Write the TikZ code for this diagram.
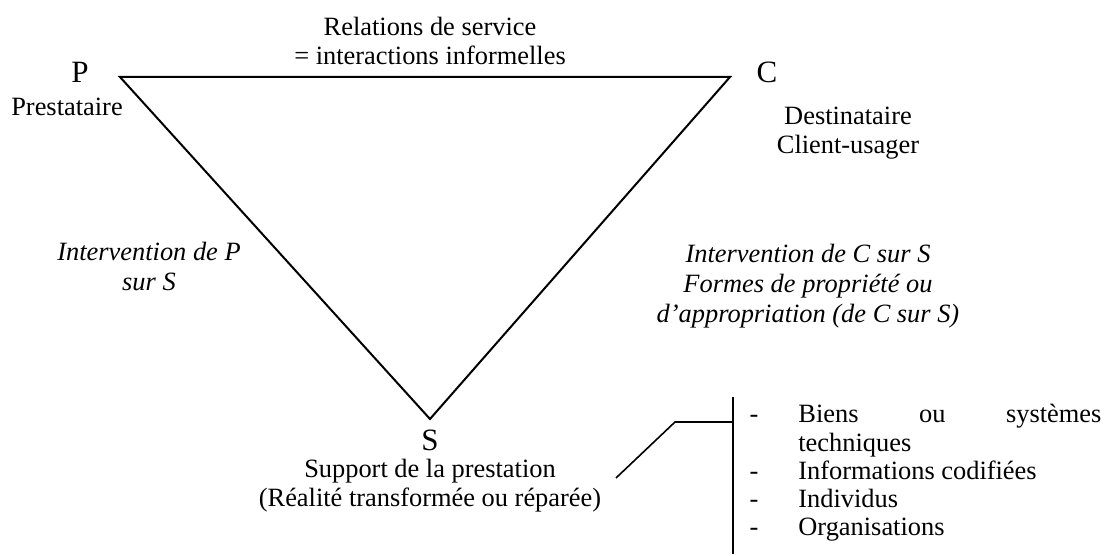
\documentclass[tikz,border=0pt]{standalone}
\usepackage{fontspec}
\setmainfont{Liberation Serif}
\usetikzlibrary{positioning}
\tikzset{
	txt/.style={font=\fontsize{13.2}{14.5}\selectfont, inner sep=0pt, align=center},
	ital/.style={txt, font=\fontsize{13.2}{15}\selectfont\itshape},
	letter/.style={font=\fontsize{15.5}{17}\selectfont, inner sep=0pt},
	edge/.style={line width=1pt},
	link/.style={line width=0.8pt},
}

\begin{document}
\begin{tikzpicture}[x=0.5pt, y=-0.5pt]
		%%%%% START %%%%%
		\useasboundingbox (0,0) rectangle (1104,556);
		
		% the triangle
		\coordinate (P) at (120,77);
		\coordinate (C) at (730,77);
		\coordinate (S) at (430,419);
		\draw[edge, line join=miter] (P) -- (C) -- (S) -- cycle;
		
		% corners (base = last line)
		\node[letter, anchor=base] (lP) at (80,83) {P};
		\node[txt, anchor=base] (prest) at (67,116) {Prestataire};
		\node[letter, anchor=base] (lC) at (767,83) {C};
		\node[txt, anchor=base] (dest) at (848,154) {Destinataire\\Client-usager};
		\node[letter, anchor=base] (lS) at (430,450) {S};
		\node[txt, anchor=base] (supp) at (430,506) {Support de la prestation\\(Réalité transformée ou réparée)};
		
		% sides
		\node[txt, anchor=base] (rel) at (430,65) {Relations de service\\= interactions informelles};
		\node[ital, anchor=base] (intP) at (149,290) {Intervention de P\\sur S};
		\node[ital, anchor=base] (intC) at (808,322) {Intervention de C sur S\\Formes de propriété ou\\d’appropriation (de C sur S)};
		
		% bracket to the list
		\coordinate (k1) at (616,478);
		\coordinate (k2) at (675,422);
		\coordinate (k3) at (733,422);
		\coordinate (top) at (733,397);
		\coordinate (bot) at (733,554);
		\draw[link] (k1) -- (k2) -- (k3);
		\draw[link] (top) -- (bot);
		
		% the list
		\foreach \y/\n in {422/a, 479/b, 507/c, 535/d}
			\node[txt, anchor=base] (dash\n) at (754,\y) {-};
		\node[txt, anchor=base west] (it1) at (798,422) {\makebox[151.5pt][s]{Biens ou systèmes}};
		\node[txt, anchor=base west] (it1b) at (798,451) {techniques};
		\node[txt, anchor=base west] (it2) at (798,479) {Informations codifiées};
		\node[txt, anchor=base west] (it3) at (798,507) {Individus};
		\node[txt, anchor=base west] (it4) at (798,535) {Organisations};
		
		%%%%% END %%%%%
\end{tikzpicture}
\end{document}
